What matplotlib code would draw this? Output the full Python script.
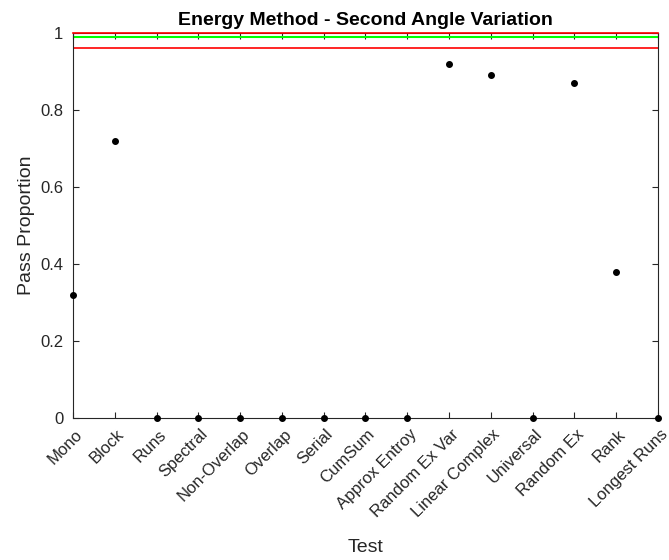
import matplotlib
matplotlib.use("Agg")
import matplotlib.pyplot as plt
import matplotlib.transforms as mtransforms

tests = ["Mono", "Block", "Runs", "Spectral", "Non-Overlap", "Overlap", "Serial",
         "CumSum", "Approx Entroy", "Random Ex Var", "Linear Complex", "Universal",
         "Random Ex", "Rank", "Longest Runs"]
pass_prop = [0.32, 0.72, 0, 0, 0, 0, 0, 0, 0, 0.92, 0.89, 0, 0.87, 0.38, 0]

p_hat = 0.99
lower = 0.961
upper = 1.0

plt.rcParams["font.family"] = ["Liberation Sans", "DejaVu Sans"]
fig = plt.figure(figsize=(6.69, 5.6), dpi=100)
ax = fig.add_axes([0.109, 0.2536, 0.8746, 0.6875])

x = list(range(1, len(tests) + 1))
ax.axhline(p_hat, color=(0, 1, 0), lw=1.5)
ax.axhline(lower, color="red", lw=1.2)
ax.axhline(upper, color="red", lw=1.2, clip_on=False, zorder=5)
ax.plot(x, pass_prop, ".", color="black", markersize=8, clip_on=False, zorder=6)

ax.set_xlim(1, len(tests))
ax.set_ylim(0, 1)
ax.set_xticks(x)
ax.set_xticklabels(tests, rotation=45, ha="right", va="center", rotation_mode="anchor")
ax.set_yticks([0, 0.2, 0.4, 0.6, 0.8, 1])
ax.set_yticklabels(["0", "0.2", "0.4", "0.6", "0.8", "1"])

gray = (0.15, 0.15, 0.15)
for s in ax.spines.values():
    s.set_color(gray)
    s.set_linewidth(0.8)
ax.tick_params(direction="in", top=True, right=True, length=4, width=0.8,
               colors=gray, labelsize=12, labelcolor=gray)
ax.tick_params(axis="x", pad=10)
ax.tick_params(axis="y", pad=7)

# nudge rotated labels right like the original
shift = mtransforms.ScaledTranslation(0.07, 0, fig.dpi_scale_trans)
for lbl in ax.get_xticklabels():
    lbl.set_transform(lbl.get_transform() + shift)

ax.set_xlabel("Test", fontsize=14, color=gray, labelpad=14)
ax.set_ylabel("Pass Proportion", fontsize=14, color=gray, labelpad=4)
ax.set_title("Energy Method - Second Angle Variation", fontsize=14, fontweight="bold", pad=6)

fig.savefig("out.png", dpi=100)
